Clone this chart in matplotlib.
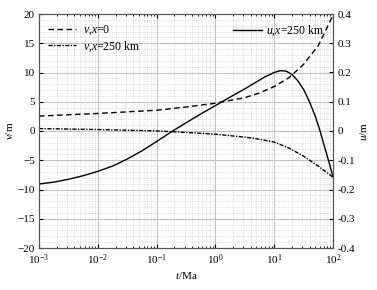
import numpy as np
import matplotlib
matplotlib.use("Agg")
import matplotlib.pyplot as plt
import matplotlib as mpl
from matplotlib.ticker import MultipleLocator, LogLocator, NullFormatter

mpl.rc('font', family="Liberation Serif", size=8)
plt.rcParams["mathtext.fontset"] = "custom"
plt.rcParams["mathtext.rm"] = "Liberation Serif"
plt.rcParams["mathtext.it"] = "Liberation Serif:italic"

# log10(t/Ma) sample points
# v at x=0 (m)
lt_v0 = [-3, -2, -1, -0.5, 0, 0.5, 0.75, 1.0, 1.25, 1.5, 1.75, 1.9, 2.0]
v_x0 = [2.55, 3.0, 3.55, 4.1, 4.75, 5.7, 6.5, 7.6, 9.1, 11.4, 14.6, 17.7, 19.8]

# v at x=250 km (m)
lt_v250 = [-3, -2, -1, -0.5, 0, 0.5, 0.75, 1.0, 1.25, 1.5, 1.75, 2.0]
v_x250 = [0.41, 0.25, 0.02, -0.25, -0.55, -1.05, -1.4, -1.9, -2.9, -4.3, -6.0, -7.9]

# u at x=250 km (m)
lt_u250 = [-3, -2.75, -2.5, -2.25, -2.0, -1.75, -1.5, -1.25, -1.0, -0.75, -0.5,
           -0.25, 0, 0.25, 0.5, 0.7, 0.85, 1.0, 1.1, 1.2, 1.3, 1.4, 1.5,
           1.6, 1.7, 1.78, 1.86, 1.93, 2.0]
u_x250 = [-0.181, -0.175, -0.165, -0.153, -0.138, -0.120, -0.096, -0.068, -0.036, -0.003, 0.028,
          0.058, 0.087, 0.116, 0.144, 0.168, 0.186, 0.200, 0.206, 0.205, 0.194, 0.172, 0.142,
          0.100, 0.050, 0.0, -0.057, -0.105, -0.157]

t_v0 = np.power(10.0, lt_v0)
t_v250 = np.power(10.0, lt_v250)
t_u250 = np.power(10.0, lt_u250)

fig = plt.figure(figsize=(3.77, 2.90), dpi=100)
ax = fig.add_axes([39/377, 42/290, 294/377, 234/290])
ax2 = ax.twinx()

l1, = ax.plot(t_v0, v_x0, color="black", lw=1.0, ls=(0, (4, 2.5)), label="$v$,$x$=0")
l2, = ax.plot(t_v250, v_x250, color="black", lw=1.0, ls=(0, (3, 1, 1, 1)), label="$v$,$x$=250 km")
l3, = ax2.plot(t_u250, u_x250, color="black", lw=1.0, ls="-", label="$u$,$x$=250 km")

ax.set_xscale("log")
ax.set_xlim(1e-3, 1e2)
ax.set_ylim(-20, 20)
ax2.set_ylim(-0.4, 0.4)
ax.yaxis.set_major_locator(MultipleLocator(5))
ax.yaxis.set_minor_locator(MultipleLocator(1))
ax2.yaxis.set_major_locator(MultipleLocator(0.1))
ax.xaxis.set_major_locator(LogLocator(base=10, numticks=10))
ax.xaxis.set_minor_locator(LogLocator(base=10, subs=np.arange(2, 10), numticks=20))
ax.xaxis.set_minor_formatter(NullFormatter())
ax2.set_yticks(ax2.get_yticks())
ax2.set_yticklabels(["%g" % v if abs(v) > 1e-9 else "0" for v in ax2.get_yticks()])
ax2.set_ylim(-0.4, 0.4)

ax.grid(True, which="major", color="#c0c0c0", lw=0.7, ls="-")
ax.grid(True, which="minor", color="#c8c8c8", lw=0.5, ls=(0, (1, 1.5)))

ax.tick_params(which="both", direction="in", top=True, right=False, labelsize=8, pad=3)
ax.tick_params(which="major", length=3)
ax.tick_params(which="minor", length=1.5, left=False)
ax2.tick_params(which="both", direction="in", labelsize=8, pad=3)
ax2.tick_params(which="major", length=3)
ax2.tick_params(which="minor", length=0)

for a in (ax, ax2):
    for s in a.spines.values():
        s.set_color("#555555")
        s.set_linewidth(0.8)

ax.set_xlabel("$t$/Ma", fontsize=8, labelpad=2)
ax.set_ylabel("$v$/m", fontsize=8, labelpad=2)
ax2.set_ylabel("$u$/m", fontsize=8, labelpad=2)

ax.legend(handles=[l1, l2], loc="upper left", frameon=False, fontsize=8.5,
          handlelength=2.3, borderaxespad=0.4, labelspacing=0.2, handletextpad=0.6)
ax2.legend(handles=[l3], loc="upper right", frameon=False, fontsize=8.5,
           handlelength=2.5, borderaxespad=0.4, handletextpad=0.3)

fig.savefig("out.png", dpi=100)
